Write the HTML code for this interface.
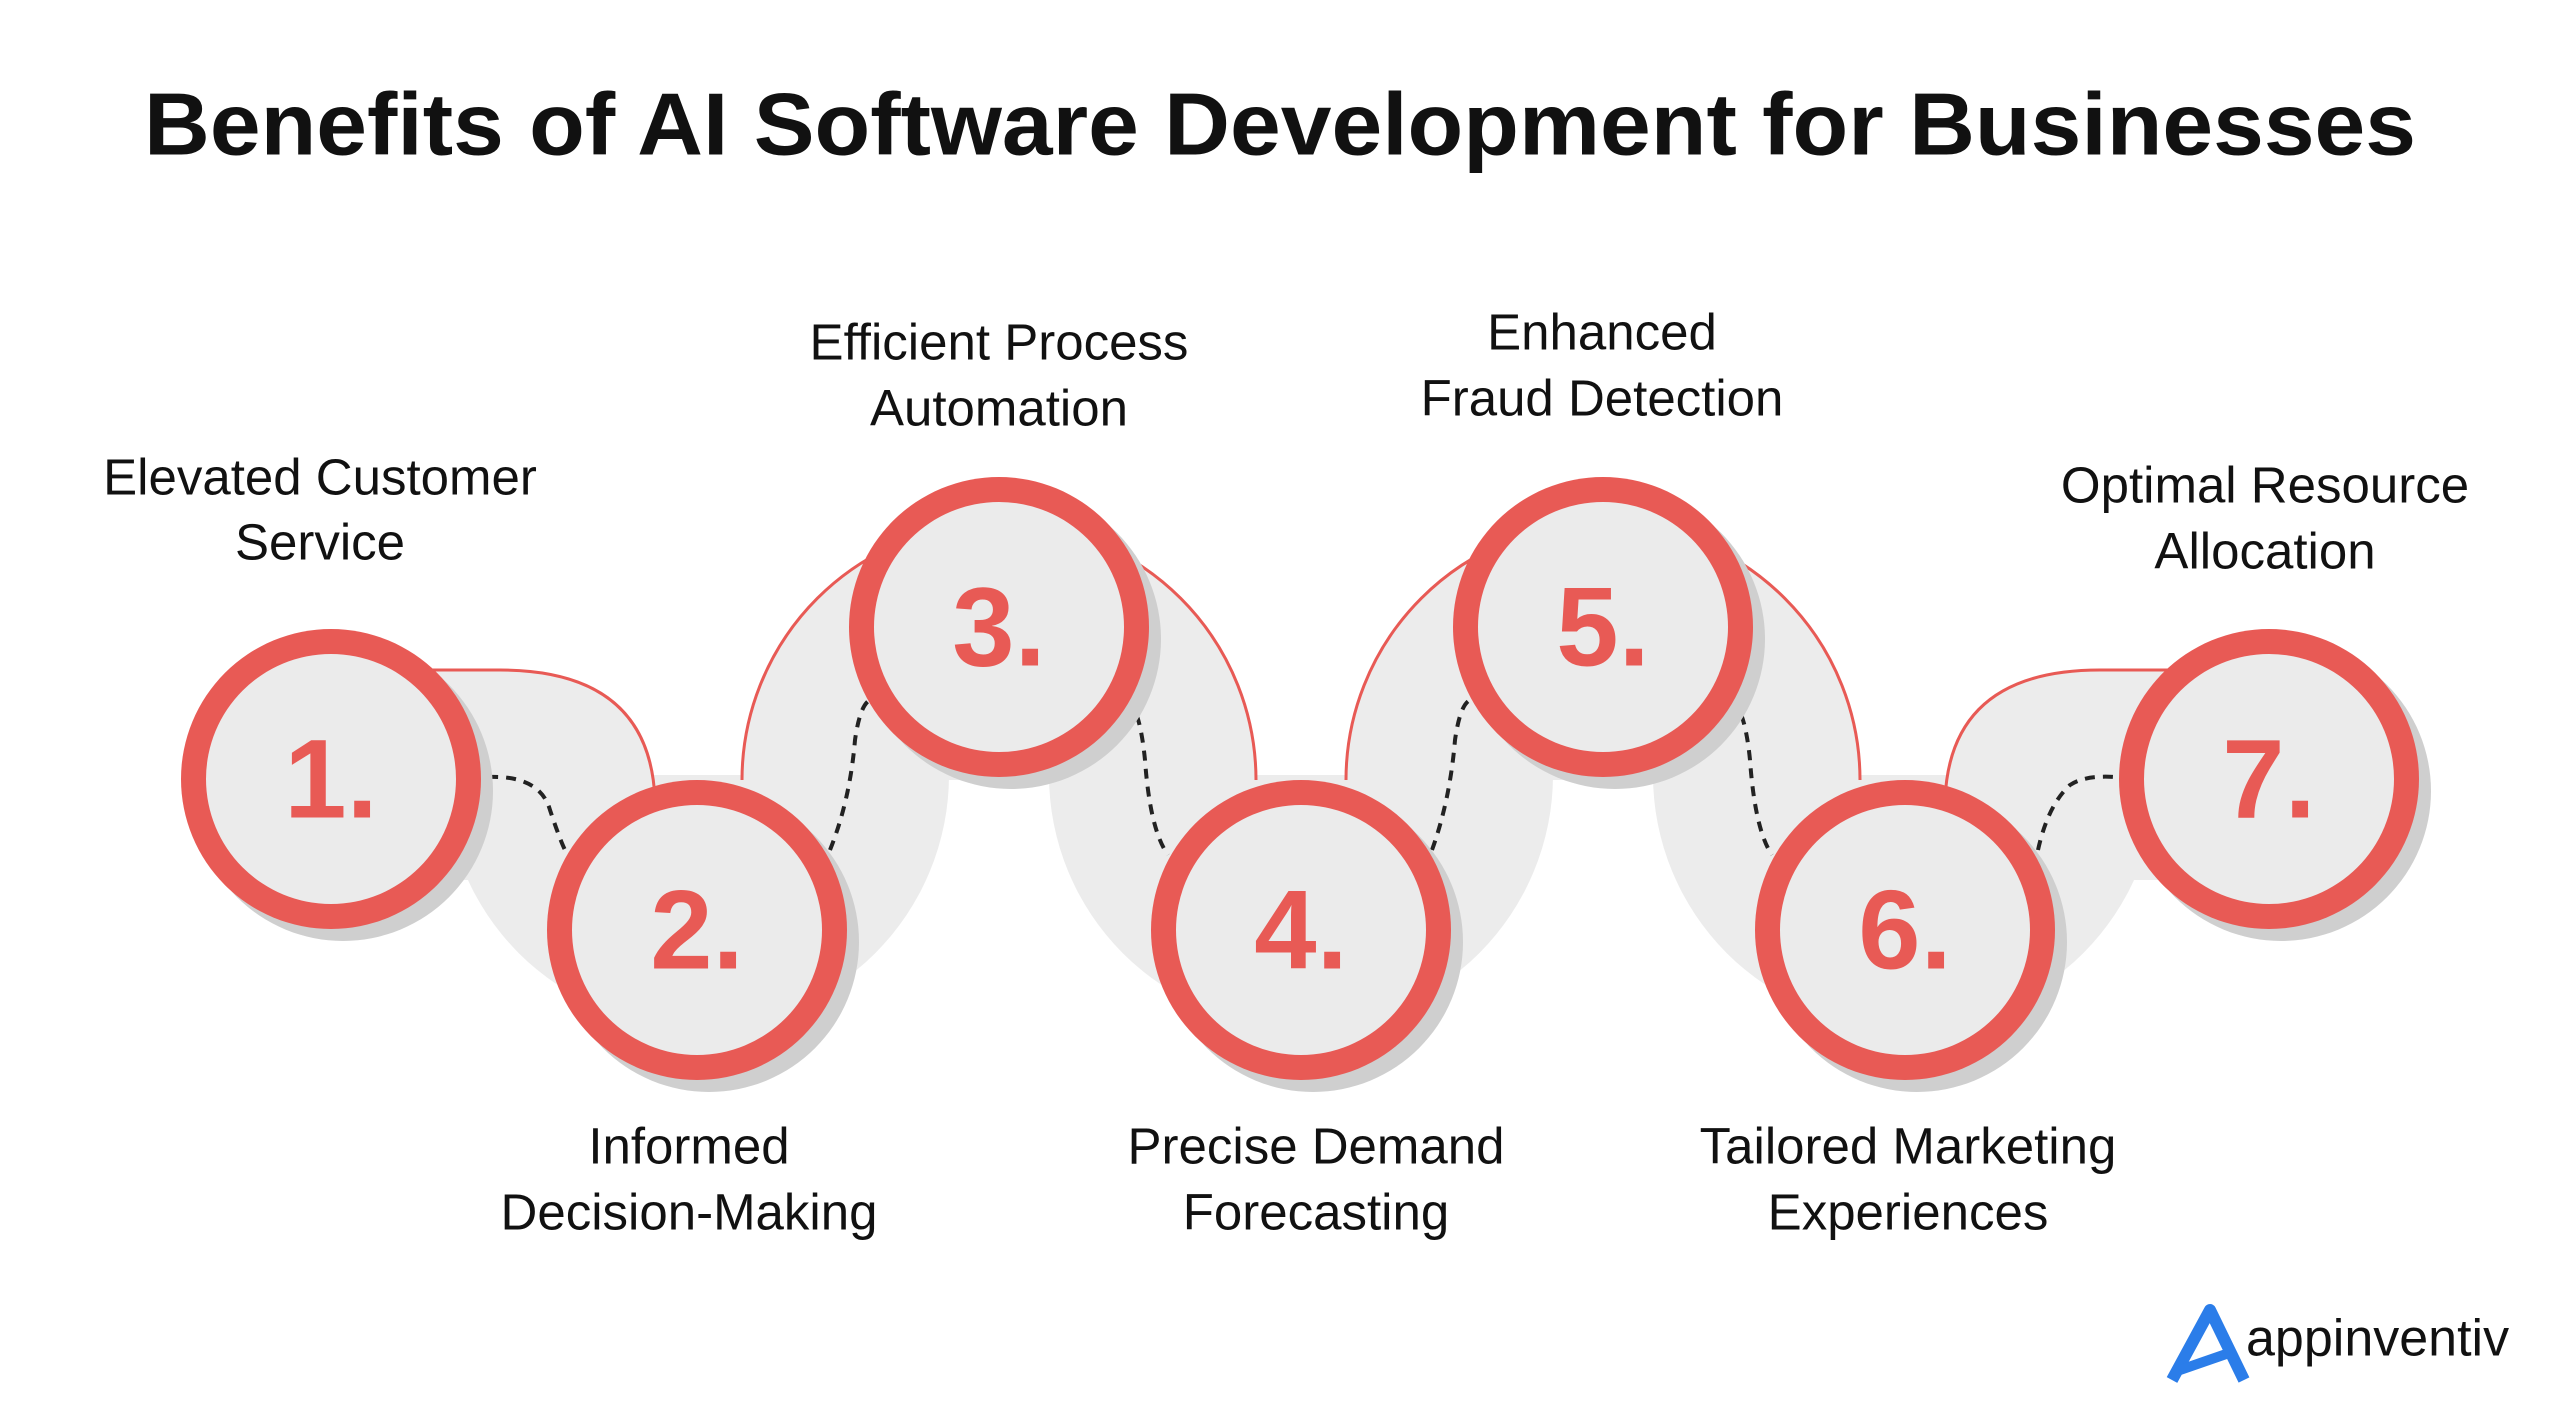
<!DOCTYPE html>
<html><head><meta charset="utf-8"><style>
html,body{margin:0;padding:0;background:#fff;}
svg{display:block;font-family:"Liberation Sans",sans-serif;}
</style></head><body>
<svg width="2560" height="1419" viewBox="0 0 2560 1419" xmlns="http://www.w3.org/2000/svg">
<rect width="2560" height="1419" fill="#fff"/>
<text x="1280" y="131" font-size="88" font-weight="bold" text-anchor="middle" dominant-baseline="middle" textLength="2272" lengthAdjust="spacingAndGlyphs" fill="#111">Benefits of AI Software Development for Businesses</text>

<!-- gray background shapes -->
<g fill="#ececec">
<path d="M331 670 L500 670 Q650 670 655 800 L655 880 L331 880 Z"/>
<path d="M2269 670 L2100 670 Q1950 670 1945 800 L1945 880 L2269 880 Z"/>
<path d="M445 775 A252 252 0 0 0 949 775 Z"/>
<path d="M1049 775 A252 252 0 0 0 1553 775 Z"/>
<path d="M1653 775 A252 252 0 0 0 2157 775 Z"/>
<path d="M742 780 A257 257 0 0 1 1256 780 Z"/>
<path d="M1346 780 A257 257 0 0 1 1860 780 Z"/>
</g>
<g fill="none" stroke="#e85a55" stroke-width="3">
<path d="M430 670 L500 670 Q650 670 655 800"/>
<path d="M2170 670 L2100 670 Q1950 670 1945 800"/>
<path d="M742 780 A257 257 0 0 1 1256 780"/>
<path d="M1346 780 A257 257 0 0 1 1860 780"/>
</g>

<!-- dotted connectors -->
<g fill="none" stroke="#222" stroke-width="4" stroke-dasharray="10 8">
<path d="M488 777 Q540 775 550 810 Q560 840 565 850"/>
<path d="M830 850 Q850 800 855 740 Q860 705 870 700"/>
<path d="M1128 700 Q1140 710 1145 760 Q1150 830 1168 855"/>
<path d="M1432 850 Q1450 800 1455 740 Q1460 705 1470 700"/>
<path d="M1732 700 Q1745 710 1750 760 Q1755 830 1772 855"/>
<path d="M2038 850 Q2048 805 2070 785 Q2085 775 2115 777"/>
</g>

<!-- circles -->
<g>
<circle cx="343" cy="791" r="150" fill="#cfcfcf"/>
<circle cx="331" cy="779" r="150" fill="#e85a55"/>
<circle cx="331" cy="779" r="125" fill="#ebebeb"/>
<circle cx="709" cy="942" r="150" fill="#cfcfcf"/>
<circle cx="697" cy="930" r="150" fill="#e85a55"/>
<circle cx="697" cy="930" r="125" fill="#ebebeb"/>
<circle cx="1011" cy="639" r="150" fill="#cfcfcf"/>
<circle cx="999" cy="627" r="150" fill="#e85a55"/>
<circle cx="999" cy="627" r="125" fill="#ebebeb"/>
<circle cx="1313" cy="942" r="150" fill="#cfcfcf"/>
<circle cx="1301" cy="930" r="150" fill="#e85a55"/>
<circle cx="1301" cy="930" r="125" fill="#ebebeb"/>
<circle cx="1615" cy="639" r="150" fill="#cfcfcf"/>
<circle cx="1603" cy="627" r="150" fill="#e85a55"/>
<circle cx="1603" cy="627" r="125" fill="#ebebeb"/>
<circle cx="1917" cy="942" r="150" fill="#cfcfcf"/>
<circle cx="1905" cy="930" r="150" fill="#e85a55"/>
<circle cx="1905" cy="930" r="125" fill="#ebebeb"/>
<circle cx="2281" cy="791" r="150" fill="#cfcfcf"/>
<circle cx="2269" cy="779" r="150" fill="#e85a55"/>
<circle cx="2269" cy="779" r="125" fill="#ebebeb"/>
</g>

<g font-size="112" font-weight="bold" fill="#e85a55" text-anchor="middle" dominant-baseline="central">
<text x="331" y="779">1.</text>
<text x="697" y="930">2.</text>
<text x="999" y="627">3.</text>
<text x="1301" y="930">4.</text>
<text x="1603" y="627">5.</text>
<text x="1905" y="930">6.</text>
<text x="2269" y="779">7.</text>
</g>

<g font-size="51" fill="#111" text-anchor="middle" dominant-baseline="middle">
<text x="320" y="481">Elevated Customer</text><text x="320" y="546">Service</text>
<text x="999" y="346">Efficient Process</text><text x="999" y="412">Automation</text>
<text x="1602" y="336">Enhanced</text><text x="1602" y="402">Fraud Detection</text>
<text x="2265" y="489">Optimal Resource</text><text x="2265" y="555">Allocation</text>
<text x="689" y="1150">Informed</text><text x="689" y="1216">Decision-Making</text>
<text x="1316" y="1150">Precise Demand</text><text x="1316" y="1216">Forecasting</text>
<text x="1908" y="1150">Tailored Marketing</text><text x="1908" y="1216">Experiences</text>
</g>

<!-- logo -->
<path d="M2172 1380 L2210 1310 L2244 1380" fill="none" stroke="#2b7de9" stroke-width="12" stroke-linejoin="round"/>
<path d="M2180 1370 L2232 1352" stroke="#2b7de9" stroke-width="10"/>
<text x="2246" y="1342" font-size="52" fill="#111" dominant-baseline="middle">appinventiv</text>
</svg>
</body></html>
